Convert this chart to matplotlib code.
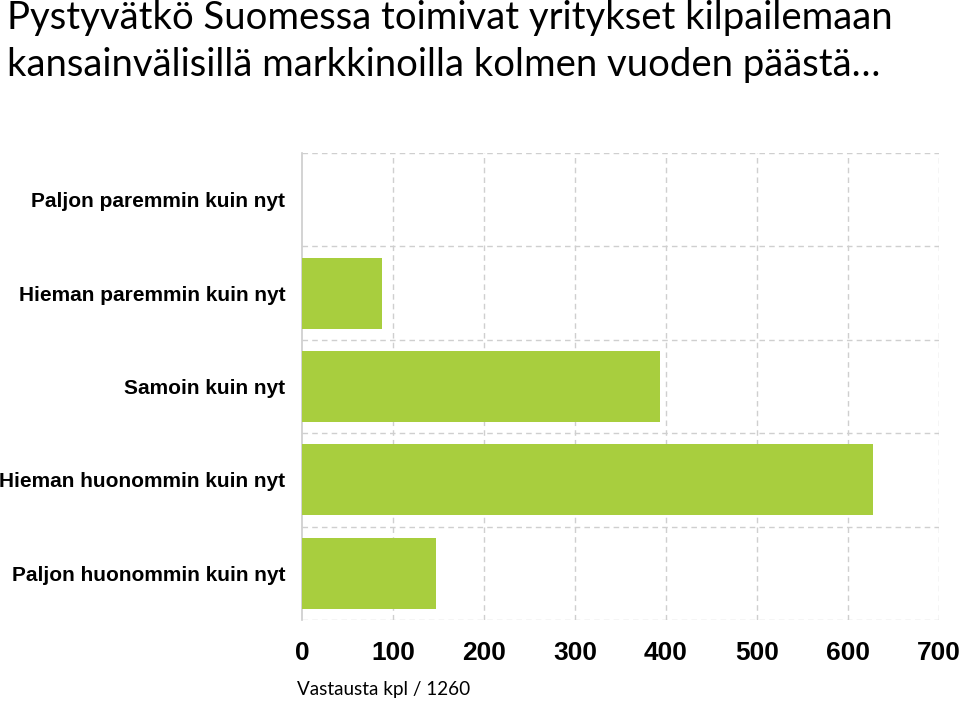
import numpy as np
import matplotlib.pyplot as plt

# data

categories = ['Paljon paremmin kuin nyt', 'Hieman paremmin kuin nyt', 'Samoin kuin nyt',
              'Hieman huonommin kuin nyt', 'Paljon huonommin kuin nyt']
counts = [0, 88, 393, 627, 147]
xticks = [0, 100, 200, 300, 400, 500, 600, 700]

fig = plt.figure(figsize=(9.6, 7.01), dpi=100)
ax = fig.add_axes([302/960, 1 - 620/701, 637/960, 467/701])

y = np.arange(len(categories))
ax.barh(y, counts, height=0.76, color='#A8CE3E', zorder=3)

ax.set_xlim(0, 700)
ax.set_ylim(len(categories) - 0.5, -0.5)

# dashed grid
for v in xticks[1:]:
    ax.axvline(v, color='#cfcfcf', ls=(0, (4, 3)), lw=1, zorder=1)
for b in np.arange(len(categories) + 1) - 0.5:
    ax.axhline(b, color='#cfcfcf', ls=(0, (4, 3)), lw=1, zorder=1)

for s in ['top', 'right', 'bottom']:
    ax.spines[s].set_visible(False)
ax.spines['left'].set_color('#cccccc')
ax.spines['left'].set_linewidth(1.2)

ax.set_xticks(xticks)
ax.set_xticklabels([str(t) for t in xticks], family='Liberation Sans', fontweight='bold', fontsize=19)
ax.set_yticks(y)
ax.set_yticklabels(categories, family='Liberation Sans', fontweight='bold', fontsize=15)
ax.tick_params(axis='x', length=0, pad=15)
ax.tick_params(axis='y', length=0, pad=12)

fig.text(7/960, 1 - 18/701, 'Pystyvätkö Suomessa toimivat yritykset kilpailemaan',
         family='Lato', fontsize=27.5, va='center', ha='left')
fig.text(7/960, 1 - 65/701, 'kansainvälisillä markkinoilla kolmen vuoden päästä…',
         family='Lato', fontsize=27.5, va='center', ha='left')
fig.text(297/960, 1 - 690/701, 'Vastausta kpl / 1260', family='Lato', fontsize=13.6,
         va='center', ha='left')

fig.savefig('out.png', dpi=100)
